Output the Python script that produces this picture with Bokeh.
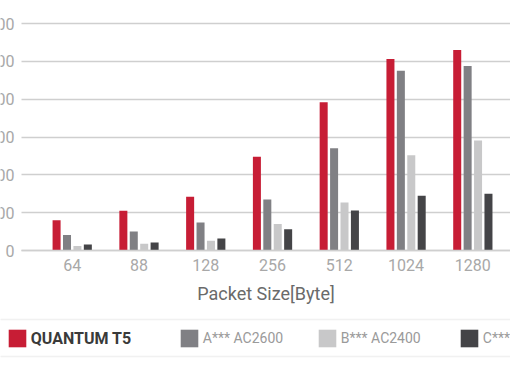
import numpy as np
from bokeh.plotting import figure
from bokeh.models import (Range1d, FixedTicker, Legend, LegendItem,
                          NumeralTickFormatter, BoxAnnotation, Grid)
from bokeh.embed import file_html
from bokeh.resources import INLINE

# ---- data ----
packet_sizes = ["64", "88", "128", "256", "512", "1024", "1280"]
series_names = ["QUANTUM T5", "A*** AC2600", "B*** AC2400", "C*** AC1900"]
quantum_t5 = [160, 210, 284, 496, 784, 1012, 1060]
a_ac2600 = [82, 100, 148, 270, 540, 950, 976]
b_ac2400 = [24, 36, 52, 140, 254, 504, 582]
c_other = [32, 42, 64, 112, 212, 290, 300]
y_ticks = [0, 200, 400, 600, 800, 1000, 1200]

colors = ["#c71d35", "#808084", "#c8c8c9", "#444447"]
all_series = [quantum_t5, a_ac2600, b_ac2400, c_other]

W, H = 510, 382
idx = np.arange(len(packet_sizes))

# the picture is a crop of a wider chart: the frame fills the whole canvas,
# axes sit inside it at fixed locations
X0, X1 = -1.074, 6.564          # visible x extent (category index units)
Y0, Y1 = -697.8, 1321.6         # visible y extent (value units)
Y_AXIS_X = -0.759               # where the plot area starts

p = figure(width=W, height=H, output_backend="svg", toolbar_location=None,
           x_range=Range1d(X0, X1), y_range=Range1d(Y0, Y1),
           min_border=0, min_border_left=0, min_border_right=0,
           min_border_top=0, min_border_bottom=0)
p.outline_line_color = None
p.background_fill_color = "white"
p.border_fill_color = "white"

offsets = [-0.234, -0.078, 0.078, 0.234]
renderers = []
for vals, col, off in zip(all_series, colors, offsets):
    r = p.vbar(x=idx + off, top=vals, width=0.12, fill_color=col,
               line_color=None)
    renderers.append(r)

p.xgrid.grid_line_color = None
p.ygrid.ticker = FixedTicker(ticks=y_ticks)
p.ygrid.grid_line_color = "#cfcfcf"
p.ygrid.grid_line_width = 1.5
use_cross = "cross_bounds" in Grid.properties()
if use_cross:
    p.ygrid.cross_bounds = (Y_AXIS_X, X1 + 1)
else:
    p.ygrid.grid_line_color = None

yax = p.yaxis[0]
yax.fixed_location = Y_AXIS_X
yax.bounds = (0, 1200)
yax.ticker = FixedTicker(ticks=y_ticks)
yax.axis_line_color = None
yax.minor_tick_line_color = None
yax.major_tick_out = 0
if use_cross:
    yax.major_tick_line_color = None
    yax.major_tick_in = 0
else:
    yax.major_tick_line_color = "#cfcfcf"
    yax.major_tick_line_width = 1.5
    yax.major_tick_in = 500
yax.major_label_text_color = "#a8a8a8"
yax.major_label_text_font = "Roboto"
yax.major_label_text_font_size = "16px"
yax.major_label_standoff = 7
yax.formatter = NumeralTickFormatter(format="0")

xax = p.xaxis[0]
xax.fixed_location = 0
xax.bounds = (Y_AXIS_X, 6.87)
xax.ticker = FixedTicker(ticks=list(idx))
xax.major_label_overrides = {int(i): s for i, s in zip(idx, packet_sizes)}
xax.axis_line_color = "#cfcfcf"
xax.axis_line_width = 1.5
xax.major_tick_line_color = None
xax.major_tick_out = 0
xax.major_tick_in = 0
xax.minor_tick_line_color = None
xax.major_label_text_color = "#a8a8a8"
xax.major_label_text_font = "Roboto"
xax.major_label_text_font_size = "16px"
xax.major_label_standoff = 8
xax.axis_label = "Packet Size[Byte]"
xax.axis_label_text_font = "Roboto"
xax.axis_label_text_font_style = "normal"
xax.axis_label_text_font_size = "18px"
xax.axis_label_text_color = "#6a6a6a"
xax.axis_label_standoff = 9

# ---- legend strip: rules run across the whole width ----
p.add_layout(BoxAnnotation(left=-10, right=W + 10, bottom=26, top=63,
                           left_units="screen", right_units="screen",
                           top_units="screen", bottom_units="screen",
                           fill_alpha=0, line_color="#d0d0d0",
                           line_width=1.5))

leg_x = [5.8, 177.8, 315.8, 457.8]
for i, (name, r, lx) in enumerate(zip(series_names, renderers, leg_x)):
    lg = Legend(items=[LegendItem(label=name, renderers=[r])],
                location=(lx, 33), orientation="horizontal",
                padding=0, margin=0, spacing=0,
                glyph_width=22, glyph_height=22, label_height=22,
                label_standoff=3, border_line_color=None,
                background_fill_alpha=0,
                label_text_font="Roboto",
                label_text_baseline="middle")
    if i == 0:
        lg.label_text_font_size = "16px"
        lg.label_text_font_style = "bold"
        lg.label_text_color = "#3a3a3a"
    else:
        lg.label_text_font_size = "14px"
        lg.label_text_color = "#9a9a9a"
    p.add_layout(lg, "center")

open("out.html", "w").write(file_html(p, INLINE))
